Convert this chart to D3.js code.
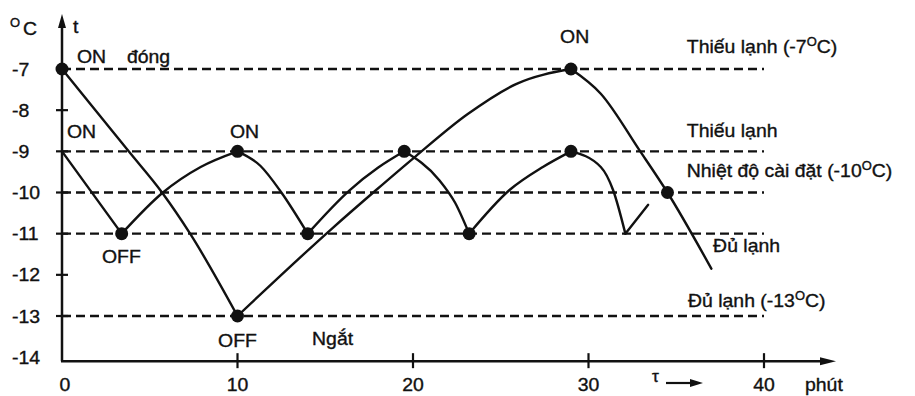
<!DOCTYPE html>
<html><head><meta charset="utf-8">
<script src="https://cdn.jsdelivr.net/npm/d3@7"></script>
<style>
html,body{margin:0;padding:0;background:#fff;}
svg{display:block;}
text{font-family:"Liberation Sans",Arial,sans-serif;fill:#111;stroke:#111;stroke-width:0.35px;}
</style></head>
<body>
<svg id="c" width="915" height="396"></svg>
<script>
// ---- data ----
const xTicks = [0, 10, 20, 30, 40];
const yTicks = [-7, -8, -9, -10, -11, -12, -13, -14];
const refLevels = [-7, -9, -10, -11, -13];

// big cycle (cabinet air, -7 .. -13)
const cycleA = [
  [[0,-7],[3.8,-9],[5.7,-10],[7.3,-11],[10,-13]],
  [[10,-13],[15.4,-10.87],[17.9,-9.94],[20.1,-9.14],[23.1,-8.1],[25.9,-7.36],[29,-7]],
  [[29,-7],[30.7,-7.6],[32.9,-8.97],[34.5,-10],[37,-11.85]]
];
const dotsA = [[0,-7],[10,-13],[29,-7],[34.5,-10]];

// small cycle (-9 .. -11)
const cycleB = [
  [[0,-9],[3.4,-11]],
  [[3.4,-11],[5.75,-10],[7.9,-9.38],[10,-9]],
  [[10,-9],[11.3,-9.35],[12.5,-10],[14,-11]],
  [[14,-11],[16.4,-9.94],[18,-9.4],[19.5,-9]],
  [[19.5,-9],[21.5,-9.7],[22.4,-10.25],[23.2,-11]],
  [[23.2,-11],[25.5,-9.94],[27.4,-9.38],[29,-9]],
  [[29,-9],[30.7,-9.38],[31.4,-9.94],[32.1,-11]],
  [[32.1,-11],[33.4,-10.3]]
];
const dotsB = [[3.4,-11],[10,-9],[14,-11],[19.5,-9],[23.2,-11],[29,-9]];

// annotations: text, t (phút), temperature
const pointLabels = [
  ["ON", 0.85, -6.85], ["đóng", 3.7, -6.85],
  ["ON", 0.28, -8.68], ["ON", 9.57, -8.68],
  ["OFF", 2.28, -11.71], ["OFF", 8.89, -13.75],
  ["Ngắt", 14.25, -13.70], ["ON", 28.38, -6.37]
];
// right side labels: [main, superscript, tail, t, temperature]
const levelLabels = [
  ["Thiếu lạnh (-7", "O", "C)", 35.6, -6.61],
  ["Thiếu lạnh", "", "", 35.6, -8.65],
  ["Nhiệt độ cài đặt (-10", "O", "C)", 35.6, -9.62],
  ["Đủ lạnh", "", "", 37.1, -11.44],
  ["Đủ lạnh (-13", "O", "C)", 35.67, -12.78]
];

// ---- drawing ----
const svg = d3.select("#c");
const x = d3.scaleLinear().domain([0, 40]).range([62, 764]);
const y = d3.scaleLinear().domain([-13, -7]).range([316, 69]);
const SX = 1.08, FS = 18, INK = "#111";
const axisY = y(-14) + 4;

function label(px, py, parts, anchor) {
  const t = svg.append("text")
    .attr("transform", `translate(${px},${py}) scale(${SX},1)`)
    .attr("text-anchor", anchor || "start")
    .attr("font-size", FS);
  parts.forEach(p => {
    const s = t.append("tspan").text(p[0]);
    if (p[1]) s.attr("font-size", p[1]);
    if (p[2]) s.attr("dy", p[2]);
  });
  return t;
}

// reference dashed lines
svg.append("g").selectAll("line").data(refLevels).join("line")
  .attr("x1", x(0)).attr("x2", x(40))
  .attr("y1", d => y(d)).attr("y2", d => y(d))
  .attr("stroke", INK).attr("stroke-width", 2.4)
  .attr("stroke-dasharray", "9,5");

// axes
svg.append("line").attr("x1", x(0)).attr("x2", x(0)).attr("y1", axisY).attr("y2", 22)
  .attr("stroke", INK).attr("stroke-width", 2.5);
svg.append("path").attr("d", `M${x(0)},14 L${x(0)-4},28 L${x(0)+4},28 Z`).attr("fill", INK);
svg.append("line").attr("x1", x(0) - 1).attr("x2", 826).attr("y1", axisY).attr("y2", axisY)
  .attr("stroke", INK).attr("stroke-width", 2.5);
svg.append("path").attr("d", `M836,${axisY} L820,${axisY-4} L820,${axisY+4} Z`).attr("fill", INK);

// y ticks
svg.append("g").selectAll("line").data(yTicks.filter(d => d > -14)).join("line")
  .attr("x1", x(0) - 6).attr("x2", x(0) + 6)
  .attr("y1", d => y(d)).attr("y2", d => y(d))
  .attr("stroke", INK).attr("stroke-width", 2.2);
yTicks.forEach(v => label(12, y(v) + 6.5, [[String(v)]]));

// x ticks
svg.append("g").selectAll("line").data(xTicks.filter(d => d > 0)).join("line")
  .attr("x1", d => x(d)).attr("x2", d => x(d))
  .attr("y1", axisY - 8).attr("y2", axisY + 7)
  .attr("stroke", INK).attr("stroke-width", 2.2);
xTicks.forEach(v => label(x(v) + (v === 0 ? 3 : 0), 391, [[String(v)]], "middle"));

// axis captions
label(10, 27, [["O", 12]]);
label(23, 35, [["C"]]);
label(73, 33, [["t"]]);
label(805, 391, [["phút"]]);
label(652, 382, [["τ", 16]]);
svg.append("line").attr("x1", 666).attr("x2", 692).attr("y1", 383).attr("y2", 383)
  .attr("stroke", INK).attr("stroke-width", 2.2);
svg.append("path").attr("d", "M703,383 L690,379 L690,387 Z").attr("fill", INK);

// curves
const line = d3.line().x(d => x(d[0])).y(d => y(d[1])).curve(d3.curveMonotoneX);
svg.append("g").selectAll("path").data(cycleA.concat(cycleB)).join("path")
  .attr("d", line).attr("fill", "none")
  .attr("stroke", INK).attr("stroke-width", 2.4)
  .attr("stroke-linejoin", "round").attr("stroke-linecap", "round");

svg.append("g").selectAll("circle").data(dotsA.concat(dotsB)).join("circle")
  .attr("cx", d => x(d[0])).attr("cy", d => y(d[1])).attr("r", 6.5)
  .attr("fill", INK);

// annotations
pointLabels.forEach(d => label(x(d[1]), y(d[2]), [[d[0]]]));
levelLabels.forEach(d => {
  const parts = [[d[0]]];
  if (d[1]) { parts.push([d[1], 12, -7]); parts.push([d[2], FS, 7]); }
  label(x(d[3]), y(d[4]), parts);
});
</script>
</body></html>
